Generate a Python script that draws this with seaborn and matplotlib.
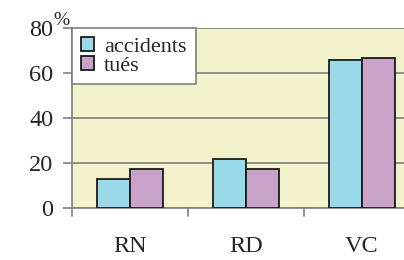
import matplotlib
matplotlib.use("Agg")
import matplotlib.pyplot as plt
import seaborn as sns
import pandas as pd

categories = ["RN", "RD", "VC"]
accidents = [12.8, 21.6, 65.8]
tues = [17.2, 17.2, 66.8]
series_names = ["accidents", "tués"]
yticks = [0, 20, 40, 60, 80]

df = pd.DataFrame({
    "cat": categories * 2,
    "serie": [series_names[0]] * 3 + [series_names[1]] * 3,
    "val": accidents + tues,
})

sns.set_style("white")
plt.rcParams["font.family"] = ["Liberation Serif", "DejaVu Serif"]

fig = plt.figure(figsize=(4.04, 2.6), dpi=100)
ax = fig.add_axes([72/404, 52/260, 348/404, 180/260])
ax.set_facecolor("#F2F2CC")

sns.barplot(data=df, x="cat", y="val", hue="serie", ax=ax,
            palette=["#99D9EA", "#C8A2C8"], width=0.57,
            edgecolor="#1a1a1a", linewidth=1.3, saturation=1, zorder=3)

ax.set_xlim(-0.5, 2.5)
ax.set_ylim(0, 80)
ax.set_yticks(yticks)
ax.set_yticklabels([str(t) for t in yticks], fontsize=17.5)
ax.yaxis.grid(True, color="#7f7f7f", linewidth=1.2, zorder=1)
ax.set_axisbelow(True)

ax.set_xticks([0, 1, 2])
ax.set_xticklabels(categories, fontsize=17.5)
ax.tick_params(axis="x", length=0, pad=20)
for b in [-0.5, 0.5, 1.5]:
    ax.plot([b, b], [0, -0.045], transform=ax.get_xaxis_transform(),
            color="#7f7f7f", lw=1.2, clip_on=False)
ax.tick_params(axis="y", length=6.5, width=1.2, color="#7f7f7f", left=True, pad=7)

ax.set_xlabel("")
ax.set_ylabel("")
for s in ["top", "right"]:
    ax.spines[s].set_visible(False)
for s in ["left", "bottom"]:
    ax.spines[s].set_color("#7f7f7f")
    ax.spines[s].set_linewidth(1.2)

fig.text(53/404, 1 - 29/260, "%", fontsize=14, ha="left", va="bottom")

leg = ax.legend(loc="upper left", bbox_to_anchor=(0, 1), borderaxespad=0,
                fontsize=16, frameon=True, fancybox=False, title=None,
                handlelength=0.6, handleheight=0.6, handletextpad=0.45,
                labelspacing=-0.05, borderpad=0.4)
leg.get_frame().set_edgecolor("#7f7f7f")
leg.get_frame().set_linewidth(1.2)
leg.get_frame().set_facecolor("white")
leg.get_frame().set_alpha(1)
leg.set_zorder(5)

fig.savefig("out.png", dpi=100)
